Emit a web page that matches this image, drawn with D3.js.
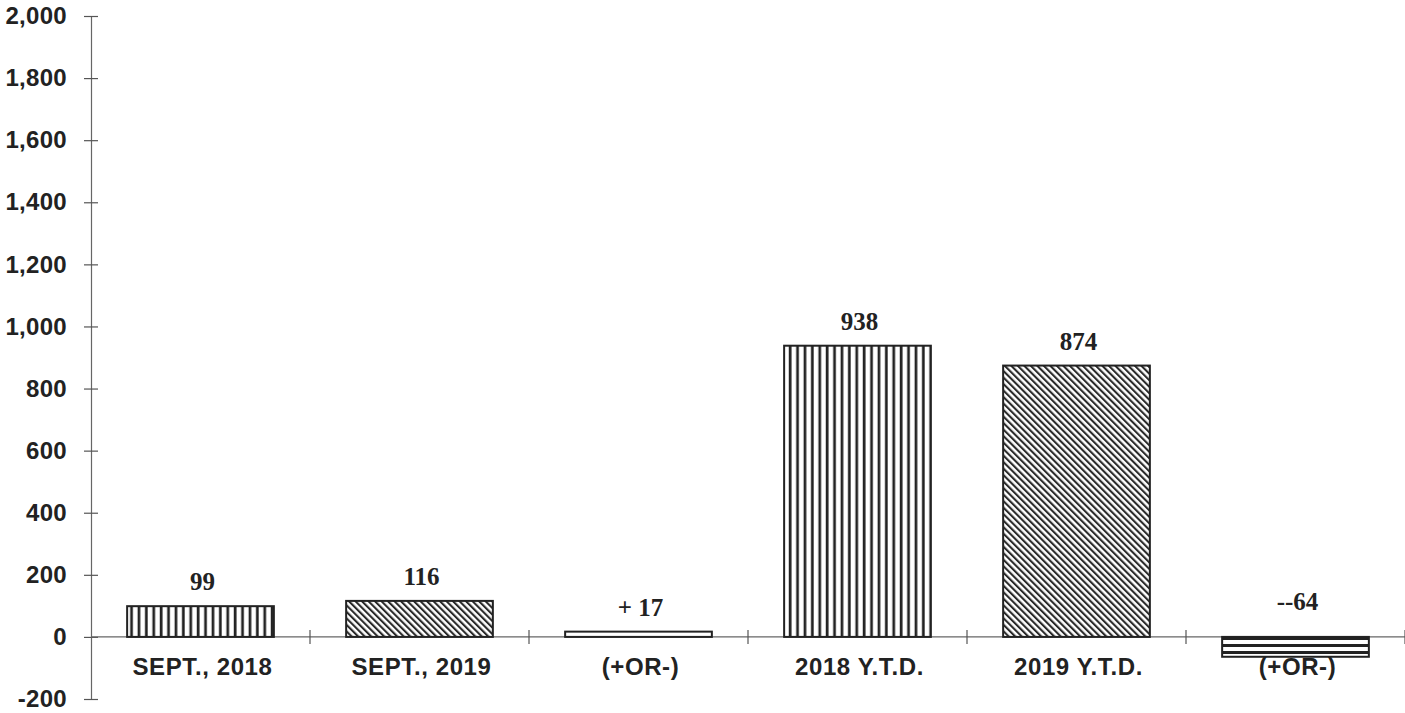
<!DOCTYPE html>
<html>
<head>
<meta charset="utf-8">
<script src="https://cdn.jsdelivr.net/npm/d3@7"></script>
<style>
  body { margin: 0; background: #fff; }
  svg { display: block; }
</style>
</head>
<body>
<svg id="chart"></svg>
<script>
// chart data
const categories = ["SEPT., 2018", "SEPT., 2019", "(+OR-)", "2018 Y.T.D.", "2019 Y.T.D.", "(+OR-) "];
const values = [99, 116, 17, 938, 874, -64];
const valueLabels = ["99", "116", "+ 17", "938", "874", "--64"];
const fills = ["vert", "diag", "plain", "vert", "diag", "horiz"];
const yTicks = [-200, 0, 200, 400, 600, 800, 1000, 1200, 1400, 1600, 1800, 2000];

const width = 1405, height = 713;
const margin = {top: 16, right: 0, bottom: 14, left: 91};

const svg = d3.select("#chart").attr("width", width).attr("height", height);

// patterns for the bars
const defs = svg.append("defs");
const vert = defs.append("pattern").attr("id", "vert")
    .attr("patternUnits", "userSpaceOnUse").attr("width", 7.4).attr("height", 10);
vert.append("rect").attr("width", 7.4).attr("height", 10).attr("fill", "#fff");
vert.append("rect").attr("x", 4.4).attr("width", 2.7).attr("height", 10).attr("fill", "#222");

const diag = defs.append("pattern").attr("id", "diag")
    .attr("patternUnits", "userSpaceOnUse").attr("width", 4.6).attr("height", 10)
    .attr("patternTransform", "rotate(-45)");
diag.append("rect").attr("width", 4.6).attr("height", 10).attr("fill", "#fff");
diag.append("rect").attr("width", 2.1).attr("height", 10).attr("fill", "#2a2a2a");

const horiz = defs.append("pattern").attr("id", "horiz")
    .attr("patternUnits", "userSpaceOnUse").attr("width", 10).attr("height", 7)
    .attr("y", 637);
horiz.append("rect").attr("width", 10).attr("height", 7).attr("fill", "#fff");
horiz.append("rect").attr("y", 0).attr("width", 10).attr("height", 3).attr("fill", "#222");

const y = d3.scaleLinear().domain([-200, 2000]).range([height - margin.bottom, margin.top]);
const xStep = d3.scaleBand().domain(categories).range([margin.left, width - margin.right]);
const x = d3.scaleBand().domain(categories).range([margin.left, width - margin.right])
    .paddingInner(0.33).paddingOuter(0.165);

const g = svg.append("g");
const sans = "Liberation Sans, Arial, sans-serif";

// y axis
const fmt = d3.format(",");
const yAxis = g.append("g").attr("transform", `translate(${margin.left},0)`)
    .call(d3.axisLeft(y).tickValues(yTicks).tickFormat(d => fmt(d).replace("\u2212", "-"))
        .tickSize(0).tickPadding(24));
yAxis.select(".domain").attr("stroke", "#666").attr("stroke-width", 1.2);
yAxis.selectAll(".tick text")
    .attr("font-family", sans)
    .attr("font-weight", "bold").attr("font-size", 24).attr("letter-spacing", 0.3)
    .attr("fill", "#222");
yAxis.selectAll(".tick").append("line")
    .attr("x1", -7).attr("x2", 7).attr("stroke", "#555").attr("stroke-width", 1.2);

// x axis along zero
const xLine = g.append("g");
xLine.append("line")
    .attr("x1", margin.left).attr("x2", width)
    .attr("y1", y(0)).attr("y2", y(0))
    .attr("stroke", "#666").attr("stroke-width", 1.2);
xLine.selectAll("line.tick")
    .data(categories)
    .enter().append("line").attr("class", "tick")
    .attr("x1", d => xStep(d) + xStep.step()).attr("x2", d => xStep(d) + xStep.step())
    .attr("y1", y(0) - 7).attr("y2", y(0) + 7)
    .attr("stroke", "#555").attr("stroke-width", 1.2);

// bars
g.selectAll("rect.bar")
    .data(values)
    .enter().append("rect").attr("class", "bar")
    .attr("x", (d, i) => x(categories[i]))
    .attr("width", x.bandwidth())
    .attr("y", d => y(Math.max(d, 0)))
    .attr("height", d => Math.abs(y(d) - y(0)))
    .attr("fill", (d, i) => fills[i] === "plain" ? "#fff" : `url(#${fills[i]})`)
    .attr("stroke", "#222").attr("stroke-width", 2);

// value labels
g.selectAll("text.val")
    .data(values)
    .enter().append("text").attr("class", "val")
    .attr("x", (d, i) => x(categories[i]) + x.bandwidth() / 2 + 2)
    .attr("y", d => d >= 0 ? y(d) - 16 : y(0) - 27)
    .attr("text-anchor", "middle")
    .attr("font-family", "Liberation Serif, Times New Roman, serif")
    .attr("font-weight", "bold").attr("font-size", 25).attr("fill", "#222")
    .text((d, i) => valueLabels[i]);

// category labels
g.selectAll("text.cat")
    .data(categories)
    .enter().append("text").attr("class", "cat")
    .attr("x", d => x(d) + x.bandwidth() / 2 + 2)
    .attr("y", 675)
    .attr("text-anchor", "middle")
    .attr("font-family", sans)
    .attr("font-weight", "bold").attr("font-size", 24).attr("letter-spacing", 0.6)
    .attr("fill", "#222")
    .text(d => d.trim());
</script>
</body>
</html>
